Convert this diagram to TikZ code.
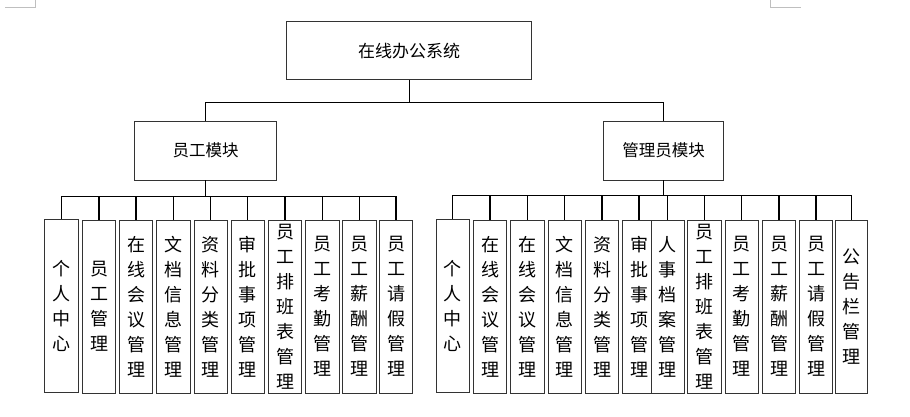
\documentclass[tikz,border=0pt]{standalone}
\usepackage{fontspec}
\setmainfont{Noto Sans CJK SC}
\begin{document}
\begin{tikzpicture}[x=1pt,y=-1pt,
  box/.style={draw=black!80, line width=0.9pt, fill=white, inner sep=0pt},
  topbox/.style={box, minimum width=245pt, minimum height=58pt, font=\fontsize{17pt}{20pt}\selectfont},
  modbox/.style={box, minimum height=59pt, font=\fontsize{16.5pt}{20pt}\selectfont},
  leaf/.style={box, minimum width=33.3pt, minimum height=173pt, align=center, font=\fontsize{18pt}{25pt}\selectfont},
  conn/.style={draw=black, line width=1.3pt},
  cornermark/.style={draw=black!25, line width=0.8pt}]
\useasboundingbox (0,0) rectangle (910,416);
% page corner marks
\draw[cornermark] (5,7.3) -- (35.7,7.3) -- (35.7,0);
\draw[cornermark] (770.3,0) -- (770.3,7.3) -- (801,7.3);
% nodes
\node[topbox] (top) at (409.2,50.8) {在线办公系统};
\node[modbox, minimum width=142.4pt] (m1) at (205.5,150.5) {员工模块};
\node[modbox, minimum width=119.6pt] (m2) at (663.5,150.5) {管理员模块};
% left leaves
\node[leaf] (a1) at (61.5,306) {个\\人\\中\\心};
\node[leaf] (a2) at (99,306.5) {员\\工\\管\\理};
\node[leaf] (a3) at (136,306.5) {在\\线\\会\\议\\管\\理};
\node[leaf] (a4) at (173.3,306.5) {文\\档\\信\\息\\管\\理};
\node[leaf] (a5) at (210.7,306.5) {资\\料\\分\\类\\管\\理};
\node[leaf] (a6) at (247.7,306.5) {审\\批\\事\\项\\管\\理};
\node[leaf] (a7) at (285,306.5) {员\\工\\排\\班\\表\\管\\理};
\node[leaf] (a8) at (322.3,306.5) {员\\工\\考\\勤\\管\\理};
\node[leaf] (a9) at (359.3,306.5) {员\\工\\薪\\酬\\管\\理};
\node[leaf] (a10) at (396,306.5) {员\\工\\请\\假\\管\\理};
% right leaves
\node[leaf] (b1) at (452.7,306) {个\\人\\中\\心};
\node[leaf] (b2) at (490,306.5) {在\\线\\会\\议\\管\\理};
\node[leaf] (b3) at (527.3,306.5) {在\\线\\会\\议\\管\\理};
\node[leaf] (b4) at (564.7,306.5) {文\\档\\信\\息\\管\\理};
\node[leaf] (b5) at (602,306.5) {资\\料\\分\\类\\管\\理};
\node[leaf] (b6) at (639,306.5) {审\\批\\事\\项\\管\\理};
\node[leaf] (b7) at (667.7,306.5) {人\\事\\档\\案\\管\\理};
\node[leaf] (b8) at (704.3,306.5) {员\\工\\排\\班\\表\\管\\理};
\node[leaf] (b9) at (741.7,306.5) {员\\工\\考\\勤\\管\\理};
\node[leaf] (b10) at (779,306.5) {员\\工\\薪\\酬\\管\\理};
\node[leaf] (b11) at (816,306.5) {员\\工\\请\\假\\管\\理};
\node[leaf, minimum width=32pt] (b12) at (851.7,306.5) {公\\告\\栏\\管\\理};
% connectors
\coordinate (busT) at (409.2,102.3);
\coordinate (busL) at (205.5,196.7);
\coordinate (busR) at (663.5,195.7);
\draw[conn] (top.south) -- (busT);
\draw[conn] (busT) -| (m1.north);
\draw[conn] (busT) -| (m2.north);
\draw[conn] (m1.south) -- (busL);
\foreach \n in {a1,a2,a3,a4,a5,a6,a7,a8,a9,a10} {\draw[conn] (busL) -| (\n.north);}
\draw[conn] (m2.south) -- (busR);
\foreach \n in {b1,b2,b3,b4,b5,b6,b7,b8,b9,b10,b11,b12} {\draw[conn] (busR) -| (\n.north);}
\end{tikzpicture}
\end{document}
